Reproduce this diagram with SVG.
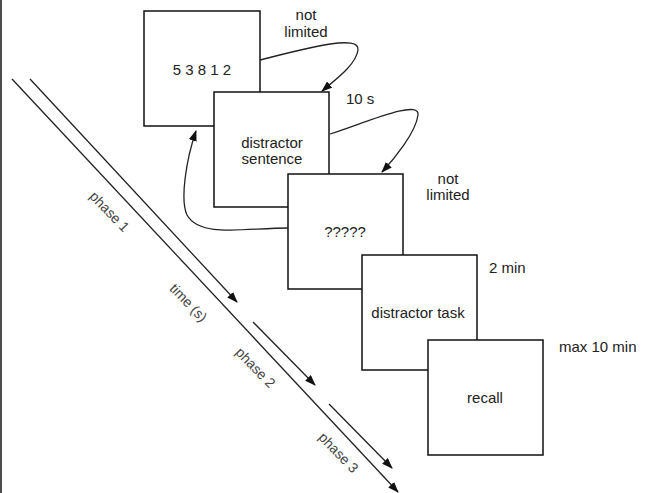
<svg xmlns="http://www.w3.org/2000/svg" width="646" height="493" viewBox="0 0 646 493">
<style>
.box{fill:#fff;stroke:#111;stroke-width:1.5}
.t{font-family:"Liberation Sans",Arial,sans-serif;font-size:15px;fill:#222;text-anchor:middle}
.lab{font-family:"Liberation Sans",Arial,sans-serif;font-size:15px;fill:#222}
.ph{font-family:"Liberation Sans",Arial,sans-serif;font-size:14px;fill:#444;text-anchor:middle}
.c{fill:none;stroke:#222;stroke-width:1.3}
</style>
<defs>
<marker id="ah" markerWidth="11" markerHeight="8" refX="10" refY="4" orient="auto" markerUnits="userSpaceOnUse">
<path d="M0,0 L11,4 L0,8 Z" fill="#111"/>
</marker>
</defs>
<rect width="646" height="493" fill="#fff"/>
<line x1="1" y1="0" x2="1" y2="493" stroke="#111" stroke-width="1.5"/>
<g id="node-digits"><rect class="box" x="144" y="11" width="116" height="115"/><text class="t" x="202" y="75">5 3 8 1 2</text></g>
<g id="node-sentence"><rect class="box" x="214" y="92" width="115" height="115"/><text class="t" x="272" y="148">distractor</text><text class="t" x="272" y="164">sentence</text></g>
<g id="node-question"><rect class="box" x="288" y="174" width="115" height="115"/><text class="t" x="345" y="237">?????</text></g>
<g id="node-task"><rect class="box" x="362" y="255" width="115" height="115"/><text class="t" x="418" y="318">distractor task</text></g>
<g id="node-recall"><rect class="box" x="428" y="340" width="115" height="115"/><text class="t" x="485" y="403">recall</text></g>
<g id="labels">
<text class="t" x="306" y="20">not</text><text class="t" x="306" y="37">limited</text>
<text class="lab" x="346" y="104">10 s</text>
<text class="t" x="448" y="184">not</text><text class="t" x="448" y="200">limited</text>
<text class="lab" x="489" y="273">2 min</text>
<text class="lab" x="559" y="352">max 10 min</text>
<text class="ph" transform="translate(106,215) rotate(46)">phase 1</text>
<text class="ph" transform="translate(185,306) rotate(46)">time (s)</text>
<text class="ph" transform="translate(252,371) rotate(46)">phase 2</text>
<text class="ph" transform="translate(335,456) rotate(46)">phase 3</text>
</g>
<g id="connectors">
<path class="c" d="M260,60 C300,50 360,33 358,50 C356,65 335,80 322,91" marker-end="url(#ah)"/>
<path class="c" d="M330,134 C360,125 420,98 418,115 C416,132 395,158 382,172" marker-end="url(#ah)"/>
<path class="c" d="M288,228 C245,228 200,238 187,215 C180,200 186,160 196,131" marker-end="url(#ah)"/>
<line class="c" x1="12" y1="79" x2="398" y2="492" marker-end="url(#ah)"/>
<line class="c" x1="30" y1="79" x2="237" y2="302" marker-end="url(#ah)"/>
<line class="c" x1="253" y1="322" x2="315" y2="385" marker-end="url(#ah)"/>
<line class="c" x1="329" y1="404" x2="392" y2="468" marker-end="url(#ah)"/>
</g>
</svg>
